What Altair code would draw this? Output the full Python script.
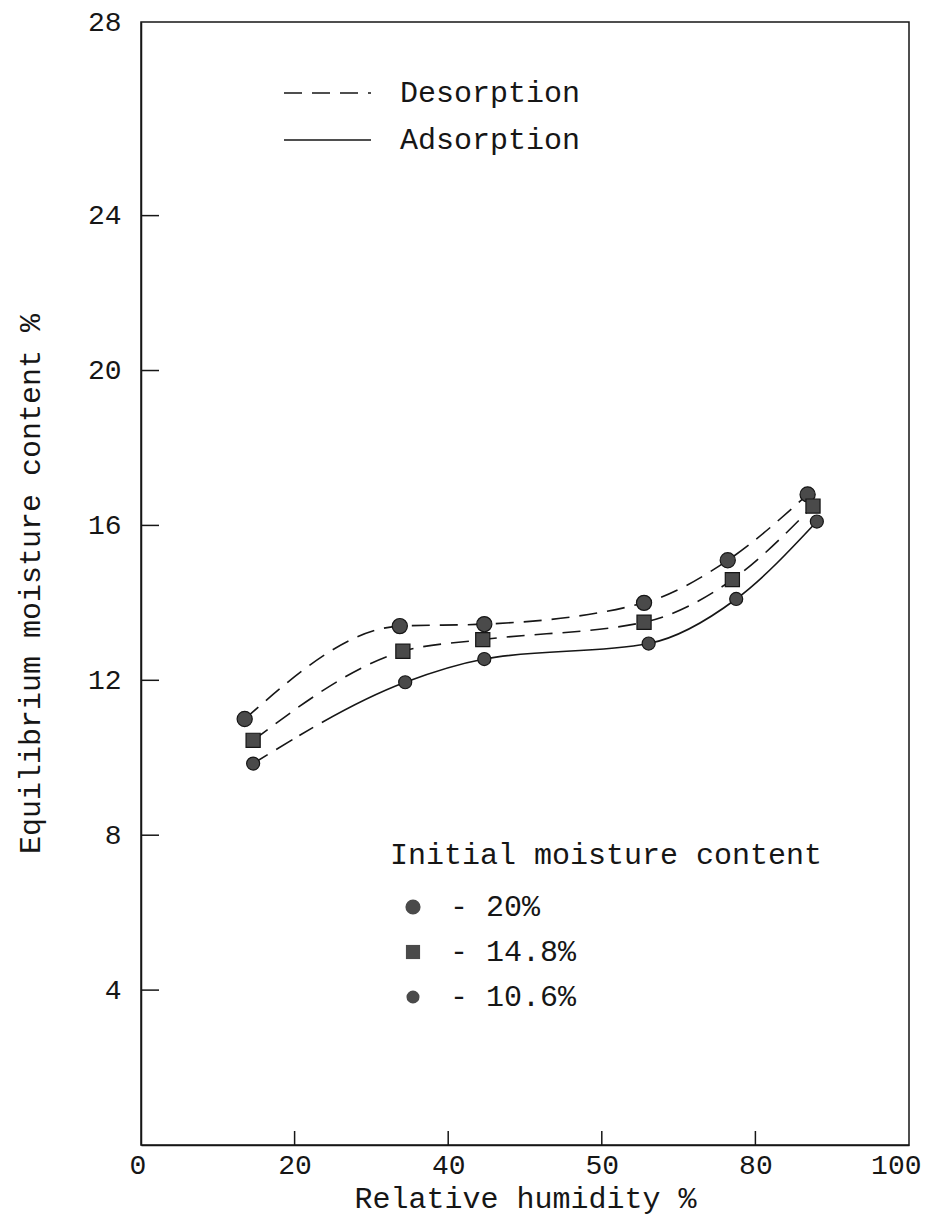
import altair as alt
import pandas as pd

# ---- data ----
series_names = ["20%", "14.8%", "10.6%"]
process_names = ["Desorption", "Adsorption"]

rh_20 = [13.5, 33.7, 44.7, 65.5, 76.4, 86.8]
emc_20 = [11.0, 13.4, 13.45, 14.0, 15.1, 16.8]
rh_148 = [14.6, 34.1, 44.5, 65.5, 77.0, 87.5]
emc_148 = [10.45, 12.75, 13.05, 13.5, 14.6, 16.5]
rh_106 = [14.6, 34.4, 44.7, 66.1, 77.5, 88.0]
emc_106 = [9.85, 11.95, 12.55, 12.95, 14.1, 16.1]

x_ticks = [0, 20, 40, 60, 80, 100]
x_tick_labels = ["0", "20", "40", "50", "80", "100"]
y_ticks = [4, 8, 12, 16, 20, 24, 29]
y_tick_labels = ["4", "8", "12", "16", "20", "24", "28"]

FONT = "Liberation Mono"
INK = "#161616"
W, H = 768, 1123


def label_expr(values, labels):
    expr = "datum.label"
    for v, l in reversed(list(zip(values, labels))):
        expr = f"datum.value == {v} ? '{l}' : ({expr})"
    return expr


df_des = pd.DataFrame({
    "rh": rh_20 + rh_148,
    "emc": emc_20 + emc_148,
    "series": [series_names[0]] * len(rh_20) + [series_names[1]] * len(rh_148),
    "process": [process_names[0]] * (len(rh_20) + len(rh_148)),
})
df_ads = pd.DataFrame({"rh": rh_106, "emc": emc_106, "series": series_names[2]})
df_pts = pd.DataFrame({
    "rh": rh_20 + rh_148 + rh_106,
    "emc": emc_20 + emc_148 + emc_106,
    "series": [series_names[0]] * 6 + [series_names[1]] * 6 + [series_names[2]] * 6,
})

x_scale = alt.Scale(domain=[0, 100], nice=False, zero=False)
y_scale = alt.Scale(domain=[0, 29], nice=False)

x_axis = alt.Axis(values=x_ticks, labelExpr=label_expr(x_ticks, x_tick_labels),
                  title="Relative humidity %", ticks=False, tickSize=0, labelPadding=6,
                  titlePadding=4, labelFlush=True, labelFlushOffset=12, grid=False)
y_axis = alt.Axis(values=y_ticks, labelExpr=label_expr(y_ticks, y_tick_labels),
                  title="Equilibrium moisture content %", ticks=False, tickSize=0,
                  labelPadding=20, titlePadding=42, grid=False)

X = alt.X("rh:Q", scale=x_scale, axis=x_axis)
Y = alt.Y("emc:Q", scale=y_scale, axis=y_axis)

CURVE = "monotone"

dash_legend = alt.Legend(title=None, orient="none", legendX=142, legendY=56,
                         symbolType="stroke", symbolSize=7569, symbolStrokeWidth=1.6,
                         symbolStrokeColor=INK, labelFont=FONT, labelFontSize=30,
                         labelColor=INK, labelOffset=28, labelLimit=600, rowPadding=17,
                         clipHeight=30, padding=0)

des = alt.Chart(df_des).mark_line(interpolate=CURVE, color=INK, strokeWidth=1.6).encode(
    x=X, y=Y, detail="series:N",
    strokeDash=alt.StrokeDash("process:N",
                              scale=alt.Scale(domain=process_names, range=[[18, 10], [1, 0]]),
                              legend=dash_legend),
)

ads = alt.Chart(df_ads).mark_line(interpolate=CURVE, color=INK, strokeWidth=1.6).encode(
    x=alt.X("rh:Q", scale=x_scale), y=alt.Y("emc:Q", scale=y_scale),
    strokeDash=alt.value([17, 10, 19, 8, 16, 10, 5000, 1]),
)

pt_legend = alt.Legend(title="Initial moisture content", orient="none", legendX=249, legendY=818,
                       titleFont=FONT, titleFontSize=30, titleFontWeight="normal", titleColor=INK,
                       titleLimit=700, titlePadding=22, labelFont=FONT, labelFontSize=30,
                       labelColor=INK, labelLimit=600,
                       labelExpr="'- ' + datum.label", labelOffset=22, rowPadding=15,
                       symbolFillColor="#333333", symbolStrokeColor=INK, symbolStrokeWidth=1,
                       symbolOffset=8, clipHeight=30, padding=0)

pts = alt.Chart(df_pts).mark_point(filled=True, fill="#4a4a4a", stroke=INK, strokeWidth=1.2,
                                   opacity=1).encode(
    x=alt.X("rh:Q", scale=x_scale), y=alt.Y("emc:Q", scale=y_scale),
    shape=alt.Shape("series:N", scale=alt.Scale(domain=series_names,
                                                range=["circle", "square", "circle"]),
                    legend=pt_legend, title="Initial moisture content"),
    size=alt.Size("series:N", scale=alt.Scale(domain=series_names, range=[230, 170, 115]),
                  legend=pt_legend, title="Initial moisture content"),
)

ytick = alt.Chart(pd.DataFrame({"emc": y_ticks[:-1]})).mark_rule(color=INK, strokeWidth=1.5).encode(
    y=alt.Y("emc:Q", scale=y_scale), x=alt.value(0), x2=alt.value(18))
xtick = alt.Chart(pd.DataFrame({"rh": x_ticks[1:-1]})).mark_rule(color=INK, strokeWidth=1.5).encode(
    x=alt.X("rh:Q", scale=x_scale), y=alt.value(H), y2=alt.value(H - 14))

chart = alt.layer(des, ads, pts, ytick, xtick).properties(
    width=W, height=H,
    autosize=alt.AutoSizeParams(type="none"),
    padding={"left": 141, "top": 22, "right": 21, "bottom": 85},
    background="white",
).configure_view(
    stroke=INK, strokeWidth=1.5
).configure_axis(
    domainColor=INK, domainWidth=1.5, labelFont=FONT, labelFontSize=28, labelColor=INK,
    titleFont=FONT, titleFontSize=30, titleFontWeight="normal", titleColor=INK,
)

chart.save("out.html", embed_options={"renderer": "svg", "actions": False})
